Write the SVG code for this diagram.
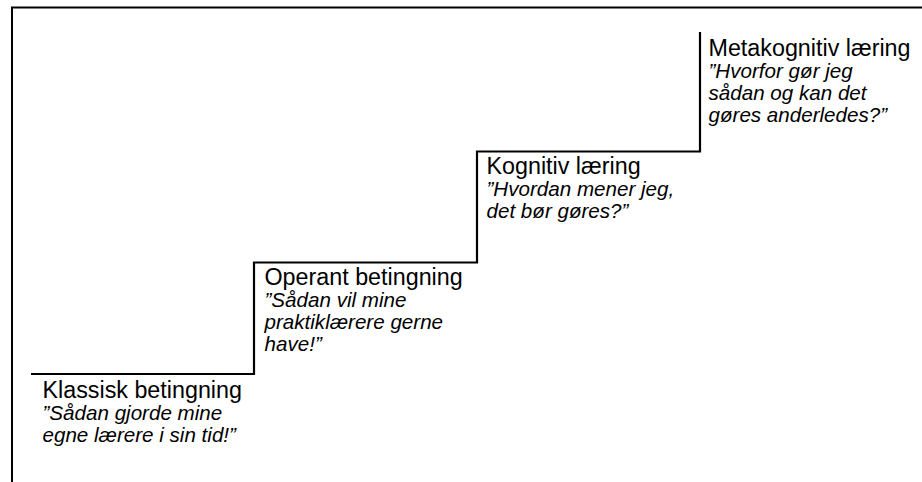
<svg xmlns="http://www.w3.org/2000/svg" width="922" height="482" viewBox="0 0 922 482">
<style>
.frame{fill:none;stroke:#000;stroke-width:2}
.stair{fill:none;stroke:#000;stroke-width:2.2}
text{font-family:"Liberation Sans",Arial,sans-serif;fill:#000}
.t{font-size:23.3px}
.q{font-size:20.6px;font-style:italic}
</style>
<rect width="922" height="482" fill="#fff"/>
<path class="frame" d="M12,482 V7.5 H922"/>
<g id="connectors">
<path class="stair" d="M31,374 H254 V262.5 H477 V151.5 H700 V32"/>
</g>
<g id="klassisk">
<text class="t" x="42.5" y="398">Klassisk betingning</text>
<text class="q" x="42.5" y="420">”Sådan gjorde mine</text>
<text class="q" x="42.5" y="442">egne lærere i sin tid!”</text>
</g>
<g id="operant">
<text class="t" x="264.5" y="285">Operant betingning</text>
<text class="q" x="264.5" y="307">”Sådan vil mine</text>
<text class="q" x="264.5" y="329">praktiklærere gerne</text>
<text class="q" x="264.5" y="351">have!”</text>
</g>
<g id="kognitiv">
<text class="t" x="486.5" y="174">Kognitiv læring</text>
<text class="q" x="486.5" y="196">”Hvordan mener jeg,</text>
<text class="q" x="486.5" y="218">det bør gøres?”</text>
</g>
<g id="metakognitiv">
<text class="t" x="708.5" y="56">Metakognitiv læring</text>
<text class="q" x="708.5" y="78">”Hvorfor gør jeg</text>
<text class="q" x="708.5" y="100">sådan og kan det</text>
<text class="q" x="708.5" y="122">gøres anderledes?”</text>
</g>
</svg>
